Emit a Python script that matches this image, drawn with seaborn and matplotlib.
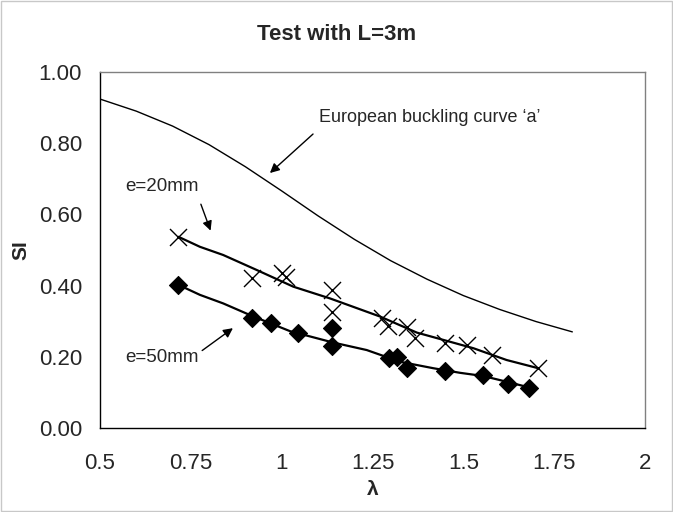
import matplotlib
matplotlib.use("Agg")
import matplotlib.pyplot as plt
import seaborn as sns
from matplotlib.patches import Rectangle

# test points, e = 20 mm (crosses)
lam_e20 = [0.716, 0.918, 1.000, 1.012, 1.139, 1.139, 1.275, 1.294, 1.344, 1.367, 1.450, 1.509, 1.578, 1.706]
si_e20 = [0.537, 0.420, 0.434, 0.425, 0.388, 0.325, 0.310, 0.287, 0.283, 0.252, 0.240, 0.233, 0.205, 0.168]

# test points, e = 50 mm (diamonds)
lam_e50 = [0.716, 0.918, 0.971, 1.044, 1.139, 1.138, 1.296, 1.317, 1.346, 1.450, 1.553, 1.624, 1.682]
si_e50 = [0.402, 0.308, 0.296, 0.266, 0.280, 0.231, 0.196, 0.200, 0.169, 0.160, 0.149, 0.123, 0.112]

# trend lines through the tests
trend20_lam = [0.716, 0.775, 0.839, 0.931, 1.032, 1.133, 1.271, 1.372, 1.436, 1.528, 1.619, 1.706]
trend20_si = [0.537, 0.509, 0.486, 0.444, 0.397, 0.364, 0.313, 0.268, 0.250, 0.224, 0.191, 0.168]
trend50_lam = [0.716, 0.775, 0.839, 0.918, 1.023, 1.142, 1.234, 1.326, 1.417, 1.491, 1.555, 1.619, 1.681]
trend50_si = [0.402, 0.374, 0.350, 0.315, 0.272, 0.240, 0.219, 0.186, 0.168, 0.155, 0.146, 0.130, 0.114]

# European buckling curve 'a'
curve_lam = [0.5, 0.6, 0.7, 0.8, 0.9, 1.0, 1.1, 1.2, 1.3, 1.4, 1.5, 1.6, 1.7, 1.8]
curve_si = [0.924, 0.890, 0.848, 0.796, 0.734, 0.666, 0.596, 0.530, 0.470, 0.418, 0.372, 0.333, 0.299, 0.270]

x_ticks = [0.5, 0.75, 1, 1.25, 1.5, 1.75, 2]
x_tick_labels = ["0.5", "0.75", "1", "1.25", "1.5", "1.75", "2"]
y_ticks = [0.0, 0.2, 0.4, 0.6, 0.8, 1.0]
y_tick_labels = ["0.00", "0.20", "0.40", "0.60", "0.80", "1.00"]

sns.set_style("white")
plt.rcParams['font.family'] = ['Liberation Sans', 'DejaVu Sans']

fig = plt.figure(figsize=(6.73, 5.12), dpi=100)
ax = fig.add_axes([100 / 673, 1 - 428 / 512, 545 / 673, 356 / 512])

sns.lineplot(x=curve_lam, y=curve_si, ax=ax, color="black", linewidth=1.0,
             sort=False, estimator=None)
sns.lineplot(x=trend20_lam, y=trend20_si, ax=ax, color="black", linewidth=1.6,
             sort=False, estimator=None)
sns.lineplot(x=trend50_lam, y=trend50_si, ax=ax, color="black", linewidth=1.6,
             sort=False, estimator=None)
sns.scatterplot(x=lam_e20, y=si_e20, ax=ax, marker="x", s=150, color="black",
                linewidth=1.0, zorder=3)
sns.scatterplot(x=lam_e50, y=si_e50, ax=ax, marker="D", s=85, color="black",
                edgecolor="black", zorder=3)

ax.set_xlim(0.5, 2)
ax.set_ylim(0, 1)
ax.set_xticks(x_ticks)
ax.set_xticklabels(x_tick_labels)
ax.set_yticks(y_ticks)
ax.set_yticklabels(y_tick_labels)
ax.tick_params(axis="both", direction="out", length=6, width=1, color="black",
               labelsize=16)
ax.tick_params(axis="x", pad=12)
ax.tick_params(axis="y", pad=7)

for side in ["left", "bottom"]:
    ax.spines[side].set_color("black")
    ax.spines[side].set_linewidth(1.0)
for side in ["top", "right"]:
    ax.spines[side].set_color("#808080")
    ax.spines[side].set_linewidth(1.0)

ax.set_xlabel("λ", fontsize=15, fontweight="bold", labelpad=4)
ax.set_ylabel("SI", fontsize=15, fontweight="bold", labelpad=6)
fig.text(337 / 673, 1 - 35 / 512, "Test with L=3m", ha="center", va="center",
         fontsize=16, fontweight="bold")

arrow = dict(arrowstyle="-|>", color="black", linewidth=1.0, mutation_scale=14)
ax.text(1.103, 0.871, "European buckling curve \u2018a\u2019", fontsize=13,
        va="center", ha="left")
ax.annotate("", xy=(0.962, 0.711), xytext=(1.092, 0.831), arrowprops=arrow)
ax.text(0.569, 0.677, "e=20mm", fontsize=13.5, va="center", ha="left")
ax.annotate("", xy=(0.807, 0.547), xytext=(0.775, 0.636), arrowprops=arrow)
ax.text(0.569, 0.197, "e=50mm", fontsize=13.5, va="center", ha="left")
ax.annotate("", xy=(0.872, 0.285), xytext=(0.775, 0.213), arrowprops=arrow)

fig.patches.append(Rectangle((0.002, 0.002), 0.996, 0.996, transform=fig.transFigure,
                             fill=False, edgecolor="#c8c8c8", linewidth=1.0))

fig.savefig("out.png", dpi=100)
plt.close(fig)
